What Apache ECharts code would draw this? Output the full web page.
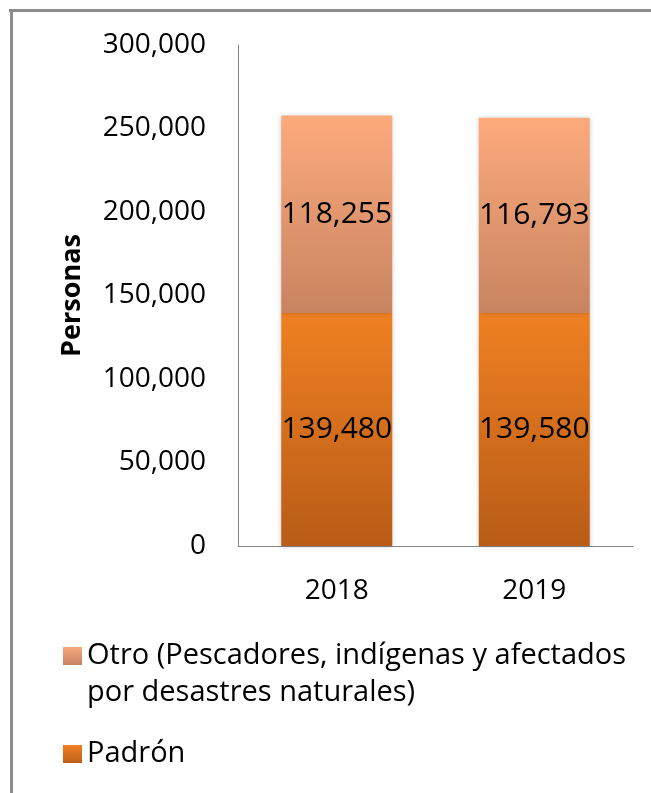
<!DOCTYPE html>
<html>
<head>
<meta charset="utf-8">
<script src="https://cdn.jsdelivr.net/npm/echarts@6/dist/echarts.min.js"></script>
<style>
  html, body { margin: 0; padding: 0; background: #fff; }
  #main { width: 651px; height: 793px; }
</style>
</head>
<body>
<div id="main"></div>
<script>
// datos del gráfico
var years = ['2018', '2019'];
var padron = [139480, 139580];
var otro = [118255, 116793];
var seriesNames = ['Otro (Pescadores, indígenas y afectados\npor desastres naturales)', 'Padrón'];
var yTicks = [0, 50000, 100000, 150000, 200000, 250000, 300000];

var myChart = echarts.init(document.getElementById('main'));

var font = 'Open Sans';
function fmt(v) {
	return Number(v).toLocaleString('en-US');
}
function grad(stops) {
	return new echarts.graphic.LinearGradient(0, 0, 0, 1, stops.map(function (s) {
		return { offset: s[0], color: s[1] };
	}));
}

var labelStyle = {
	show: true,
	position: 'inside',
	fontFamily: font,
	fontSize: 30,
	color: '#000',
	formatter: function (p) { return fmt(p.value); }
};

// icono de leyenda: cuadrado arriba, alto total = dos lineas de texto
var tallIcon = 'path://M0,0L19,0L19,18L0,18Z M0,55L19,55';

option = {
	backgroundColor: '#fff',
	animation: false,
	grid: { left: 238, top: 45, right: 18, bottom: 247 },
	graphic: [
		{ type: 'rect', shape: { x: 9, y: 9, width: 642, height: 3 }, style: { fill: '#8c8c8c' }, silent: true },
		{ type: 'rect', shape: { x: 10, y: 9, width: 3, height: 784 }, style: { fill: '#8c8c8c' }, silent: true }
	],
	legend: [
		{
			data: [seriesNames[0]],
			orient: 'vertical',
			left: 63,
			top: 637.5,
			padding: 0,
			icon: tallIcon,
			itemWidth: 19,
			itemHeight: 55,
			itemGap: 0,
			itemStyle: {
				color: grad([[0, '#f9a87c'], [0.327, '#c68362'], [1, '#c68362']]),
				borderWidth: 0,
				shadowBlur: 0
			},
			textStyle: { fontFamily: font, fontSize: 29, color: '#000', lineHeight: 37 }
		},
		{
			data: [seriesNames[1]],
			orient: 'vertical',
			left: 63,
			top: 735.5,
			padding: 0,
			icon: 'rect',
			itemWidth: 19,
			itemHeight: 18,
			itemStyle: {
				color: grad([[0, '#ef8022'], [1, '#bd5f19']]),
				borderWidth: 0,
				shadowBlur: 0
			},
			textStyle: { fontFamily: font, fontSize: 29, color: '#000', lineHeight: 37 }
		}
	],
	xAxis: {
		type: 'category',
		data: years,
		axisLine: { lineStyle: { color: '#868686', width: 1 } },
		axisTick: { show: false },
		axisLabel: { fontFamily: font, fontSize: 28, color: '#000', margin: 31 }
	},
	yAxis: {
		type: 'value',
		min: yTicks[0],
		max: yTicks[yTicks.length - 1],
		interval: 50000,
		name: 'Personas',
		nameLocation: 'middle',
		nameGap: 152,
		nameTextStyle: { fontFamily: font, fontSize: 27, fontWeight: 'bold', color: '#000' },
		axisLine: { show: true, lineStyle: { color: '#868686', width: 1 } },
		axisTick: { show: false },
		splitLine: { show: false },
		axisLabel: { fontFamily: font, fontSize: 28, color: '#000', margin: 32, formatter: fmt }
	},
	series: [
		{
			name: seriesNames[1],
			type: 'bar',
			stack: 'total',
			barWidth: 111,
			data: padron,
			label: labelStyle,
			itemStyle: {
				color: grad([[0, '#ef8022'], [1, '#b95c17']]),
				shadowBlur: 5,
				shadowColor: 'rgba(0,0,0,0.25)'
			}
		},
		{
			name: seriesNames[0],
			type: 'bar',
			stack: 'total',
			barWidth: 111,
			data: otro,
			label: labelStyle,
			itemStyle: {
				color: grad([[0, '#fdaa7c'], [1, '#c78460']]),
				shadowBlur: 5,
				shadowColor: 'rgba(0,0,0,0.25)'
			}
		}
	]
};

myChart.setOption(option);
</script>
</body>
</html>
